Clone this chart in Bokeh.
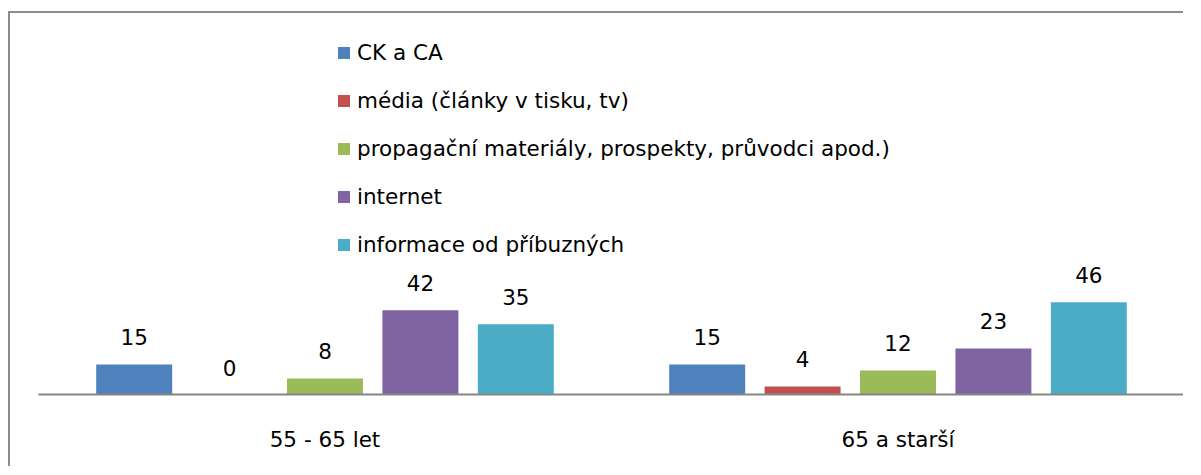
from bokeh.plotting import figure
from bokeh.models import FactorRange, Range1d, Legend, LegendItem, ColumnDataSource
from bokeh.transform import dodge
from bokeh.core.properties import value
from bokeh.embed import file_html
from bokeh.resources import INLINE

groups = ["55 - 65 let", "65 a starší"]
series = ["CK a CA",
          "média (články v tisku, tv)",
          "propagační materiály, prospekty, průvodci apod.)",
          "internet",
          "informace od příbuzných"]
ck_ca = [15, 15]
media = [0, 4]
propag = [8, 12]
internet = [42, 23]
info = [35, 46]
colors = ["#4F81BD", "#C0504D", "#9BBB59", "#8064A2", "#4BACC6"]

values_by_series = [ck_ca, media, propag, internet, info]

FONT = "DejaVu Sans"
FSIZE = "21.5px"

p = figure(width=1175, height=455, x_range=FactorRange(*groups, range_padding=0),
           y_range=Range1d(0, 190.0), output_backend="svg", toolbar_location=None,
           y_axis_location=None, min_border_left=28, min_border_right=1,
           min_border_top=0, min_border_bottom=74)
p.margin = (11, 0, 0, 8)
p.styles = {"border-left": "2px solid #8C8C8C", "border-top": "2px solid #8C8C8C"}
p.outline_line_color = None
p.xgrid.grid_line_color = None
p.ygrid.grid_line_color = None
p.background_fill_color = "white"
p.border_fill_color = "white"

pitch = 0.1665
bar_w = 0.1326
items = []
for i, (name, vals, col) in enumerate(zip(series, values_by_series, colors)):
    src = ColumnDataSource(dict(g=groups, v=vals, lbl=[str(v) for v in vals]))
    off = (i - 2) * pitch
    r = p.vbar(x=dodge("g", off, range=p.x_range), top="v", width=bar_w, bottom=0,
               source=src, fill_color=col, line_color=None)
    p.text(x=dodge("g", off, range=p.x_range), y="v", text="lbl", source=src,
           text_align="center", text_baseline="alphabetic", y_offset=-27,
           text_font=value(FONT), text_font_size=FSIZE, text_color="black")
    items.append(LegendItem(label=name, renderers=[r]))

legend = Legend(items=items, location=(298, 137), glyph_width=15, glyph_height=15,
                label_standoff=6, label_height=25, spacing=23, padding=0, margin=0,
                border_line_color=None, background_fill_alpha=0,
                label_text_font=FONT, label_text_font_size=FSIZE, label_text_color="black")
p.add_layout(legend)

ax = p.xaxis[0]
ax.axis_line_color = "#868686"
ax.axis_line_width = 2
ax.major_tick_line_color = None
ax.minor_tick_line_color = None
ax.major_tick_out = 0
ax.major_label_standoff = 32
ax.major_label_text_font = FONT
ax.major_label_text_font_size = FSIZE
ax.major_label_text_color = "black"

open("out.html", "w").write(file_html(p, INLINE))
